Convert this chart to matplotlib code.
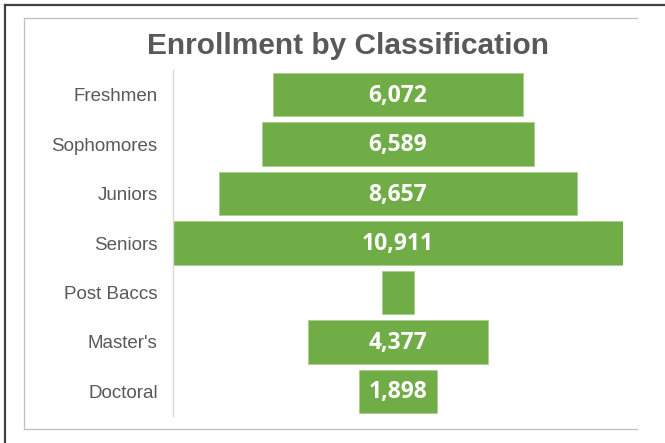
import matplotlib
matplotlib.use("Agg")
import matplotlib.pyplot as plt
from matplotlib.lines import Line2D

categories = ["Freshmen", "Sophomores", "Juniors", "Seniors", "Post Baccs", "Master's", "Doctoral"]
values = [6072, 6589, 8657, 10911, 770, 4377, 1898]
value_labels = ["6,072", "6,589", "8,657", "10,911", "", "4,377", "1,898"]
title = "Enrollment by Classification"

W, H = 665, 443
fig = plt.figure(figsize=(W / 100, H / 100), dpi=100)
fig.patch.set_facecolor("white")

def fx(px):
    return px / W

def fy(py):
    return 1 - py / H

# frames
fig.add_artist(Line2D([fx(5), fx(5)], [fy(5), fy(443)], color="#404040", lw=1.6))
fig.add_artist(Line2D([fx(5), fx(665)], [fy(5), fy(5)], color="#404040", lw=1.6))
fig.add_artist(Line2D([fx(24), fx(637)], [fy(18), fy(18)], color="#BFBFBF", lw=0.9))
fig.add_artist(Line2D([fx(24), fx(24)], [fy(18), fy(428.5)], color="#BFBFBF", lw=0.9))
fig.add_artist(Line2D([fx(24), fx(637)], [fy(428.5), fy(428.5)], color="#BFBFBF", lw=0.9))

ax = fig.add_axes([fx(173), fy(416), fx(623) - fx(173), (416 - 70) / H])
vmax = max(values)
y = list(range(len(categories)))
lefts = [-v / 2 for v in values]
bars = ax.barh(y, values, left=lefts, height=0.88, color="#70AD47",
               edgecolor="#A9D08E", linewidth=0.6)
ax.set_xlim(-vmax / 2, vmax / 2)
ax.set_ylim(len(categories) - 0.5, -0.5)
ax.set_yticks(y)
ax.set_yticklabels(categories, fontsize=13.5, color="#595959", family="Liberation Sans")
ax.tick_params(axis="y", length=0, pad=11)
ax.set_xticks([])
for s in ["top", "right", "bottom"]:
    ax.spines[s].set_visible(False)
ax.spines["left"].set_color("#D9D9D9")
ax.spines["left"].set_linewidth(1.0)

for yi, lab in zip(y, value_labels):
    if lab:
        ax.text(0, yi + 0.02, lab, ha="center", va="center", color="white",
                fontsize=16.5, fontweight="bold", family="Open Sans")

fig.text(fx(348), fy(46), title, ha="center", va="center", fontsize=21.5,
         fontweight="bold", color="#595959", family="Liberation Sans")

fig.savefig("out.png", dpi=100)
